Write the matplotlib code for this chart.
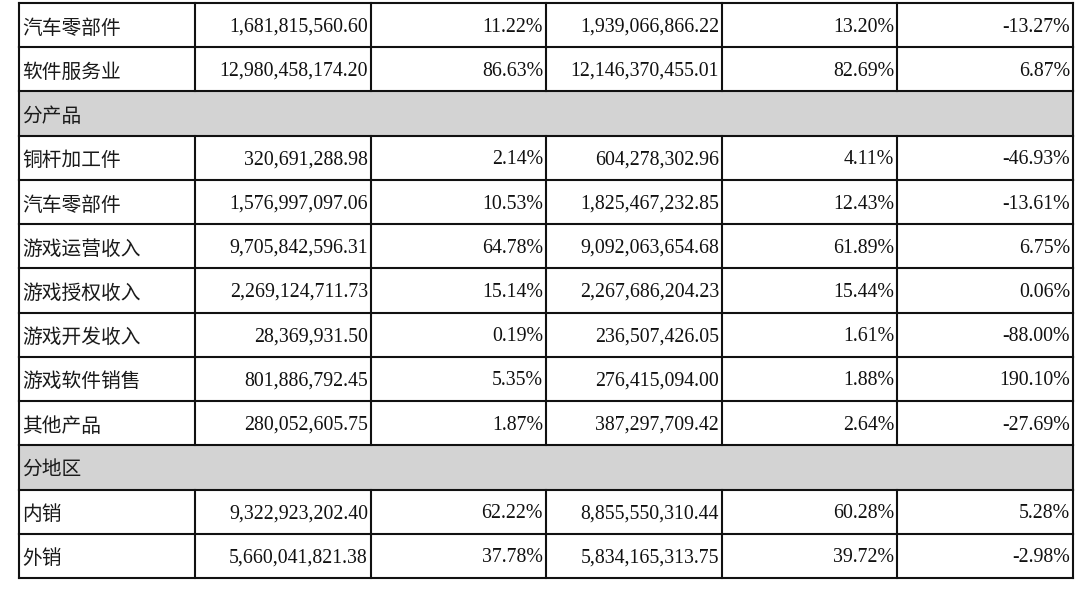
import matplotlib
matplotlib.use("Agg")
import matplotlib.pyplot as plt
from matplotlib.patches import Rectangle

# ---- data ----
row_labels = ["汽车零部件", "软件服务业", "分产品", "铜杆加工件", "汽车零部件",
              "游戏运营收入", "游戏授权收入", "游戏开发收入", "游戏软件销售",
              "其他产品", "分地区", "内销", "外销"]
amount_current = ["1,681,815,560.60", "12,980,458,174.20", None, "320,691,288.98",
                  "1,576,997,097.06", "9,705,842,596.31", "2,269,124,711.73",
                  "28,369,931.50", "801,886,792.45", "280,052,605.75", None,
                  "9,322,923,202.40", "5,660,041,821.38"]
share_current = ["11.22%", "86.63%", None, "2.14%", "10.53%", "64.78%", "15.14%",
                 "0.19%", "5.35%", "1.87%", None, "62.22%", "37.78%"]
amount_prior = ["1,939,066,866.22", "12,146,370,455.01", None, "604,278,302.96",
                "1,825,467,232.85", "9,092,063,654.68", "2,267,686,204.23",
                "236,507,426.05", "276,415,094.00", "387,297,709.42", None,
                "8,855,550,310.44", "5,834,165,313.75"]
share_prior = ["13.20%", "82.69%", None, "4.11%", "12.43%", "61.89%", "15.44%",
               "1.61%", "1.88%", "2.64%", None, "60.28%", "39.72%"]
yoy_change = ["-13.27%", "6.87%", None, "-46.93%", "-13.61%", "6.75%", "0.06%",
              "-88.00%", "190.10%", "-27.69%", None, "5.28%", "-2.98%"]

# ---- layout (pixels) ----
W, H = 1080, 591
col_edges = [19, 195, 371, 546, 722, 897, 1073]
top, bottom = 3, 578
n = len(row_labels)
row_h = (bottom - top) / n
header_fill = "#d3d3d3"
line_color = "#111111"

fig = plt.figure(figsize=(W / 100, H / 100), dpi=100)
ax = fig.add_axes([0, 0, 1, 1])
ax.set_xlim(0, W)
ax.set_ylim(H, 0)
ax.axis("off")

cjk = ["Noto Sans CJK SC", "DejaVu Sans"]
num_font = ["Liberation Serif", "DejaVu Serif"]
fs = 14

cols = [amount_current, share_current, amount_prior, share_prior, yoy_change]

for i, lab in enumerate(row_labels):
    y0 = top + i * row_h
    yc = y0 + row_h / 2
    is_section = amount_current[i] is None
    if is_section:
        ax.add_patch(Rectangle((col_edges[0], y0), col_edges[-1] - col_edges[0], row_h,
                               facecolor=header_fill, edgecolor="none", zorder=0))
    ax.text(col_edges[0] + 3, yc + 3, lab, family=cjk, fontsize=fs + 0.2,
            ha="left", va="center", color="#1a1a1a")
    if not is_section:
        for j, c in enumerate(cols):
            ax.text(col_edges[j + 2] - 3, yc + 2, c[i], family=num_font, fontsize=fs + 0.3,
                    ha="right", va="center", color="#111111")

# horizontal lines
for i in range(n + 1):
    y = top + i * row_h
    ax.plot([col_edges[0], col_edges[-1]], [y, y], color=line_color, lw=1.5,
            solid_capstyle="projecting")
# vertical lines
for i in range(n):
    y0 = top + i * row_h
    y1 = y0 + row_h
    is_section = amount_current[i] is None
    xs = [col_edges[0], col_edges[-1]] if is_section else col_edges
    for x in xs:
        ax.plot([x, x], [y0, y1], color=line_color, lw=1.5, solid_capstyle="projecting")

fig.savefig("out.png", dpi=100, facecolor="white")
